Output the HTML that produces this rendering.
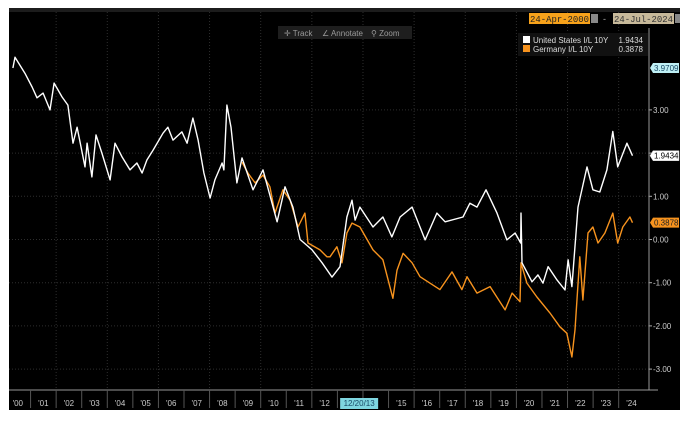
<!DOCTYPE html>
<html><head><meta charset="utf-8">
<style>
html,body{margin:0;padding:0;background:#fff;}
body{width:695px;height:421px;overflow:hidden;position:relative;font-family:"Liberation Sans",sans-serif;}
svg{position:absolute;left:0;top:0;}
text{font-family:"Liberation Sans",sans-serif;}
</style></head>
<body>
<svg id="chart" width="695" height="421" viewBox="0 0 695 421">
  <rect x="9" y="8" width="671" height="402" fill="#000"/>
  <rect x="9" y="8" width="671" height="4" fill="#1c1c1c"/>
  <g id="grid"></g>
  <g id="series"></g>
  <g id="axes"></g>
  <g>
    <rect x="278" y="26" width="134" height="13" fill="#1e1e1e"/>
    <text x="284" y="36" font-size="8" fill="#9a9a9a">✛ Track</text>
    <text x="322" y="36" font-size="8" fill="#9a9a9a">∠ Annotate</text>
    <text x="371" y="36" font-size="8" fill="#9a9a9a">⚲ Zoom</text>
  </g>
  <g>
    <rect x="529" y="13" width="61" height="11" fill="#f7a21b"/>
    <text x="530" y="22" font-size="9" fill="#222" textLength="59" lengthAdjust="spacingAndGlyphs" style="font-family:'Liberation Mono',monospace">24-Apr-2000</text>
    <rect x="591" y="14" width="7" height="9" fill="#888"/>
    <text x="603" y="22" font-size="9" fill="#aaa">-</text>
    <rect x="613" y="13" width="61" height="11" fill="#c7b99a"/>
    <text x="614" y="22" font-size="9" fill="#333" textLength="59" lengthAdjust="spacingAndGlyphs" style="font-family:'Liberation Mono',monospace">24-Jul-2024</text>
    <rect x="675" y="14" width="5" height="9" fill="#888"/>
  </g>
  <g>
    <rect x="518" y="33" width="130" height="23" fill="#111"/>
    <rect x="523" y="36" width="7" height="7" fill="#fff"/>
    <text x="533" y="43" font-size="8" fill="#ddd">United States I/L 10Y</text>
    <text x="643" y="43" font-size="8" fill="#ddd" text-anchor="end">1.9434</text>
    <rect x="523" y="45" width="7" height="7" fill="#f7931e"/>
    <text x="533" y="52" font-size="8" fill="#ddd">Germany I/L 10Y</text>
    <text x="643" y="52" font-size="8" fill="#ddd" text-anchor="end">0.3878</text>
  </g>
</svg>
<script>
const usDates=[2000.31,2000.39,2000.78,2001.06,2001.25,2001.49,2001.76,2001.92,2002.23,2002.46,2002.66,2002.82,2003.13,2003.21,2003.40,2003.56,2003.79,2004.11,2004.30,2004.58,2004.89,2005.16,2005.36,2005.55,2005.79,2006.18,2006.37,2006.57,2006.92,2007.12,2007.35,2007.55,2007.78,2008.02,2008.21,2008.49,2008.56,2008.68,2008.84,2009.07,2009.27,2009.70,2010.09,2010.64,2010.95,2011.26,2011.54,2012.01,2012.40,2012.79,2013.10,2013.37,2013.57,2013.69,2013.88,2014.39,2014.78,2015.13,2015.45,2015.92,2016.43,2016.89,2017.21,2017.91,2018.18,2018.46,2018.81,2019.24,2019.63,2019.95,2020.17,2020.18,2020.22,2020.61,2020.84,2021.04,2021.24,2021.59,2021.90,2022.02,2022.17,2022.41,2022.76,2022.99,2023.26,2023.54,2023.77,2023.96,2024.32,2024.54];
const usValues=[3.97,4.22,3.85,3.53,3.28,3.39,3.0,3.62,3.3,3.11,2.23,2.6,1.68,2.23,1.45,2.42,2.0,1.38,2.23,1.91,1.61,1.77,1.54,1.84,2.07,2.46,2.6,2.3,2.49,2.23,2.81,2.3,1.54,0.96,1.38,1.77,1.61,3.11,2.6,1.31,1.89,1.15,1.61,0.41,1.22,0.75,0.0,-0.24,-0.54,-0.87,-0.63,0.52,0.91,0.45,0.75,0.29,0.52,0.06,0.52,0.75,-0.01,0.61,0.41,0.52,0.84,0.75,1.15,0.61,-0.01,0.15,-0.08,0.61,-0.54,-0.98,-0.82,-1.01,-0.63,-0.94,-1.17,-0.47,-1.09,0.75,1.68,1.15,1.10,1.61,2.50,1.68,2.23,1.94];
const deDates=[2009.27,2009.50,2009.78,2010.09,2010.36,2010.56,2010.87,2011.15,2011.46,2011.73,2011.85,2012.32,2012.59,2012.71,2012.98,2013.18,2013.37,2013.57,2013.88,2014.39,2014.78,2015.17,2015.33,2015.57,2015.92,2016.23,2017.01,2017.48,2017.87,2018.07,2018.46,2018.97,2019.56,2019.83,2020.14,2020.18,2020.41,2020.80,2021.31,2021.70,2021.97,2022.17,2022.29,2022.48,2022.60,2022.80,2022.99,2023.19,2023.46,2023.77,2023.96,2024.16,2024.44,2024.54];
const deValues=[1.79,1.54,1.31,1.49,1.22,0.61,1.15,0.91,0.29,0.61,-0.08,-0.24,-0.40,-0.40,-0.17,-0.54,0.15,0.38,0.29,-0.24,-0.47,-1.36,-0.71,-0.32,-0.54,-0.86,-1.16,-0.75,-1.16,-0.86,-1.24,-1.09,-1.63,-1.24,-1.44,-0.54,-1.01,-1.33,-1.70,-2.02,-2.17,-2.72,-2.09,-0.40,-1.40,0.15,0.29,-0.08,0.15,0.61,-0.08,0.29,0.52,0.39];
const yTicks=[3,2,1,0,-1,-2,-3];
const yTickLabels=["3.00","2.00","1.00","0.00","-1.00","-2.00","-3.00"];
const xYears=[2000,2001,2002,2003,2004,2005,2006,2007,2008,2009,2010,2011,2012,2013,2014,2015,2016,2017,2018,2019,2020,2021,2022,2023,2024];
const xLabels=["'00","'01","'02","'03","'04","'05","'06","'07","'08","'09","'10","'11","'12","12/20/13","","'15","'16","'17","'18","'19","'20","'21","'22","'23","'24"];

const NS="http://www.w3.org/2000/svg";
const L=9,R=649,TOP=12,BOT=390;
function xs(t){return 5+25.57*(t-2000);}
function ys(v){return 239.5-43.2*v;}
function mk(tag,attrs,parent){const e=document.createElementNS(NS,tag);for(const k in attrs)e.setAttribute(k,attrs[k]);parent.appendChild(e);return e;}
const grid=document.getElementById('grid'),axes=document.getElementById('axes'),ser=document.getElementById('series');

yTicks.forEach((v,i)=>{
  const g=mk('line',{x1:L,x2:R,y1:ys(v),y2:ys(v),stroke:'#2e2e2e','stroke-dasharray':'1,2','stroke-width':1},grid);
  
  
  const t=mk('line',{x1:R,x2:R+3,y1:ys(v),y2:ys(v),stroke:'#aaa'},axes);
  
  
  if(v!==2){
    const lb=mk('text',{x:R+4,y:ys(v)+3,'font-size':8,fill:'#ccc'},axes);
    lb.textContent=yTickLabels[i];
    
    
  }
});
xYears.forEach(yr=>{
  if(yr%2===0&&yr>2000){
    const g=mk('line',{x1:xs(yr),x2:xs(yr),y1:TOP,y2:BOT,stroke:'#2e2e2e','stroke-dasharray':'1,2'},grid);
    
    
  }
});
let a=mk('line',{x1:R,x2:R,y1:28,y2:BOT,stroke:'#999'},axes);


a=mk('line',{x1:L,x2:R,y1:BOT,y2:BOT,stroke:'#999'},axes);


a=mk('line',{x1:R,x2:R+9,y1:BOT,y2:BOT,stroke:'#999'},axes);


xYears.forEach((yr,i)=>{
  const sx=xs(yr);
  if(yr>2000){
    const s=mk('line',{x1:sx,x2:sx,y1:BOT,y2:BOT+18,stroke:'#555'},axes);
    
    
  }
});
xYears.forEach((yr,i)=>{
  const lbl=xLabels[i];
  if(!lbl)return;
  const special=lbl.length>4;
  const cx=special?xs(yr+0.85):xs(yr+0.5);
  if(special){
    const bx=mk('rect',{x:cx-19,y:BOT+8,width:38,height:11,fill:'#7fd6e0'},axes);
    
    
  }
  const lb=mk('text',{x:cx,y:BOT+16,'font-size':8,fill:special?'#1a4a66':'#ccc','text-anchor':'middle'},axes);
  lb.textContent=lbl;
  
  
});
function path(d,v,col,name){
  let s='';for(let i=0;i<d.length;i++)s+=(i?'L':'M')+xs(d[i]).toFixed(1)+','+ys(v[i]).toFixed(1);
  const p=mk('path',{d:s,fill:'none',stroke:col,'stroke-width':1.4,'stroke-linejoin':'round'},ser);
  
  
}
path(deDates,deValues,'#f7931e','germany-il-10y-line');
path(usDates,usValues,'#ffffff','us-il-10y-line');
function tag(v,txt,bg,fg,name){
  const y=ys(v);
  const r=mk('path',{d:`M${R+1},${y} L${R+4},${y-5} L${R+30},${y-5} L${R+30},${y+5} L${R+4},${y+5} Z`,fill:bg,stroke:fg==='#000'?'#ccc':'none','stroke-width':0.5},axes);
  
  
  const t=mk('text',{x:R+5,y:y+3,'font-size':8,fill:fg},axes);
  t.textContent=txt;
  
  
}
tag(usValues[0],'3.9709','#bff0f5','#1a4a66','start-value-tag');
tag(usValues[usValues.length-1],'1.9434','#fff','#000','us-last-value-tag');
tag(deValues[deValues.length-1],'0.3878','#f7931e','#222','de-last-value-tag');
</script>
</body></html>
